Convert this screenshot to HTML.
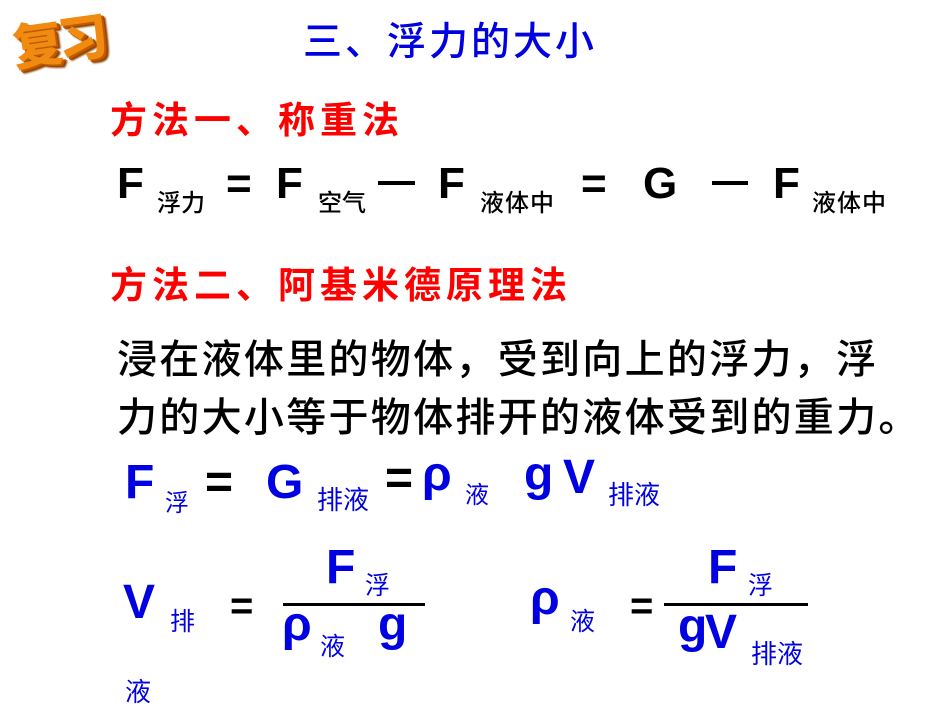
<!DOCTYPE html>
<html><head><meta charset="utf-8"><style>
html,body{margin:0;padding:0;background:#fff;}
body{width:950px;height:713px;position:relative;overflow:hidden;font-family:"Liberation Sans","Noto Sans CJK SC",sans-serif;}
.a{position:absolute;line-height:1;white-space:nowrap;}
.L{font-family:"Liberation Sans",sans-serif;font-weight:bold;}
.C{font-family:"Noto Sans CJK SC",sans-serif;}
.k{color:#000;}
.b{color:#0000e0;}
.r{color:#f00;}
.ln{position:absolute;height:3px;background:#000;}
</style></head><body>
<div class="a C" style="left:12px;top:14px;font-size:50px;font-weight:900;letter-spacing:-4px;color:#f08a10;transform:rotate(-8deg);text-shadow:2px 2px 0 #c05a00,3px 3px 0 #a04000,4px 4px 2px #804000;">复习</div>
<div class="a C b" style="left:303px;top:20px;font-size:39px;letter-spacing:3px;font-weight:500;">三、浮力的大小</div>
<div class="a C r" style="left:110px;top:99px;font-size:37px;font-weight:bold;letter-spacing:5px;">方法一、称重法</div>
<div class="a C r" style="left:110px;top:264px;font-size:37px;font-weight:bold;letter-spacing:5px;">方法二、阿基米德原理法</div>
<div class="a C k" style="left:117px;top:336px;font-size:40px;letter-spacing:2.3px;font-weight:500;">浸在液体里的物体，受到向上的浮力，浮</div>
<div class="a C k" style="left:117px;top:394px;font-size:40px;letter-spacing:2.3px;font-weight:500;">力的大小等于物体排开的液体受到的重力。</div>

<!-- row 1 black -->
<div class="a L k" style="left:117px;top:162px;font-size:44px;">F</div>
<div class="a C k" style="left:157px;top:189px;font-size:24px;font-weight:500;">浮力</div>
<div class="a L k" style="left:226px;top:162px;font-size:44px;">=</div>
<div class="a L k" style="left:276px;top:162px;font-size:44px;">F</div>
<div class="a C k" style="left:318px;top:189px;font-size:24px;font-weight:500;">空气</div>
<div class="a k" style="left:378px;top:181px;width:37px;height:4px;background:#000;"></div>
<div class="a L k" style="left:438px;top:162px;font-size:44px;">F</div>
<div class="a C k" style="left:480px;top:189px;font-size:24px;letter-spacing:1px;font-weight:500;">液体中</div>
<div class="a L k" style="left:581px;top:162px;font-size:44px;">=</div>
<div class="a L k" style="left:643px;top:162px;font-size:44px;">G</div>
<div class="a k" style="left:712px;top:181px;width:36px;height:4px;background:#000;"></div>
<div class="a L k" style="left:773px;top:162px;font-size:44px;">F</div>
<div class="a C k" style="left:812px;top:189px;font-size:24px;letter-spacing:1px;font-weight:500;">液体中</div>

<!-- row 2 blue -->
<div class="a L b" style="left:125px;top:459px;font-size:48px;">F</div>
<div class="a C b" style="left:165px;top:489px;font-size:24px;">浮</div>
<div class="a L k" style="left:205px;top:459px;font-size:48px;">=</div>
<div class="a L b" style="left:266px;top:459px;font-size:48px;">G</div>
<div class="a C b" style="left:317px;top:486px;font-size:26px;">排液</div>
<div class="a L k" style="left:385px;top:455px;font-size:48px;">=</div>
<div class="a L b" style="left:422px;top:451px;font-size:48px;">ρ</div>
<div class="a C b" style="left:465px;top:481px;font-size:24px;">液</div>
<div class="a L b" style="left:524px;top:451px;font-size:48px;">g</div>
<div class="a L b" style="left:563px;top:454px;font-size:48px;">V</div>
<div class="a C b" style="left:608px;top:481px;font-size:26px;">排液</div>

<!-- left fraction -->
<div class="a L b" style="left:123px;top:579px;font-size:48px;">V</div>
<div class="a C b" style="left:170px;top:608px;font-size:25px;">排</div>
<div class="a C b" style="left:125px;top:678px;font-size:26px;">液</div>
<div class="a L k" style="left:230px;top:586px;font-size:40px;">=</div>
<div class="ln" style="left:283px;top:603px;width:142px;"></div>
<div class="a L b" style="left:326px;top:544px;font-size:48px;">F</div>
<div class="a C b" style="left:365px;top:572px;font-size:25px;">浮</div>
<div class="a L b" style="left:282px;top:601px;font-size:48px;">ρ</div>
<div class="a C b" style="left:320px;top:633px;font-size:25px;">液</div>
<div class="a L b" style="left:378px;top:601px;font-size:48px;">g</div>

<!-- right fraction -->
<div class="a L b" style="left:530px;top:575px;font-size:48px;">ρ</div>
<div class="a C b" style="left:570px;top:608px;font-size:25px;">液</div>
<div class="a L k" style="left:630px;top:586px;font-size:40px;">=</div>
<div class="ln" style="left:664px;top:603px;width:144px;"></div>
<div class="a L b" style="left:708px;top:544px;font-size:48px;">F</div>
<div class="a C b" style="left:748px;top:572px;font-size:25px;">浮</div>
<div class="a L b" style="left:678px;top:603px;font-size:48px;">g</div>
<div class="a L b" style="left:705px;top:609px;font-size:48px;">V</div>
<div class="a C b" style="left:751px;top:640px;font-size:26px;">排液</div>
</body></html>
